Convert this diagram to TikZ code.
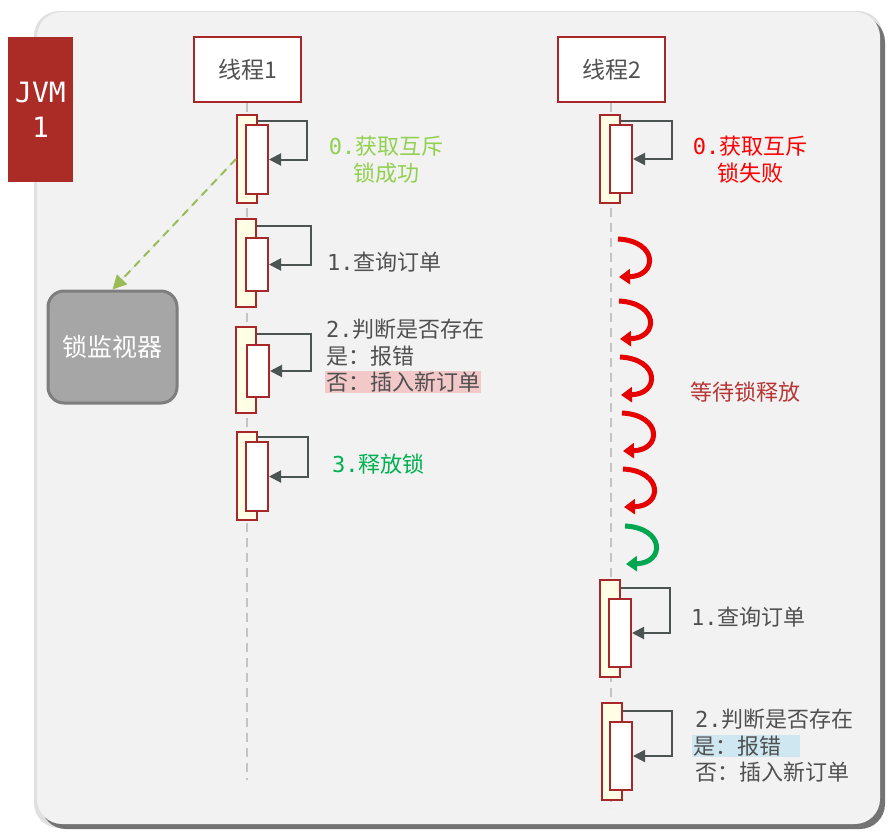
\documentclass[tikz,border=0pt]{standalone}
\usepackage{fontspec}
\setmainfont{Noto Sans CJK SC}
\setmonofont{DejaVu Sans Mono}
\usetikzlibrary{arrows.meta,positioning,calc}
\definecolor{jvmred}{HTML}{AB2B27}
\definecolor{edgered}{HTML}{A8282A}
\definecolor{actfill}{HTML}{FFFFE6}
\definecolor{inkgray}{HTML}{505050}
\definecolor{arrowgray}{HTML}{4B5353}
\definecolor{panelgray}{HTML}{F2F2F2}
\definecolor{lifegray}{HTML}{C4C4C4}
\definecolor{okgreen}{HTML}{92D050}
\definecolor{relgreen}{HTML}{00B050}
\definecolor{failred}{HTML}{FF0000}
\definecolor{waitred}{HTML}{B83434}
\definecolor{curlred}{HTML}{E60000}
\definecolor{curlgreen}{HTML}{00A650}
\definecolor{watchgreen}{HTML}{9BBB59}
\definecolor{monfill}{HTML}{A6A6A6}
\definecolor{monedge}{HTML}{7E7E7E}
\definecolor{hlpink}{HTML}{F3C8C8}
\definecolor{hlblue}{HTML}{CFE7F0}

\begin{document}
\begin{tikzpicture}[x=1pt, y=-1pt,
  thread/.style = {draw=edgered, line width=2pt, fill=white, minimum width=107pt, minimum height=65pt,
                   text=inkgray, font=\fontsize{23}{27}\selectfont},
  outer/.style  = {draw=edgered, line width=2pt, fill=actfill, minimum width=20pt, inner sep=0pt},
  inner/.style  = {draw=edgered, line width=2pt, fill=white, minimum width=22pt, inner sep=0pt},
  self/.style   = {-{Triangle[length=12pt,width=12pt]}, draw=arrowgray, line width=2pt},
  life/.style   = {draw=lifegray, line width=2pt, dash pattern=on 9pt off 6pt},
  watch/.style  = {-{Triangle[length=14pt,width=14pt]}, draw=watchgreen, fill=watchgreen, line width=2pt,
                   dash pattern=on 8pt off 6pt},
  curl/.style   = {-{Triangle[length=11pt,width=15pt]}, draw=curlred, line width=5pt},
  lbl/.style    = {font=\fontsize{22}{27}\selectfont, text=inkgray, anchor=west, inner sep=1pt},
  jvm/.style    = {fill=jvmred, minimum width=65pt, minimum height=145pt, text=white, align=center,
                   font=\ttfamily\fontsize{28}{35}\selectfont},
  monitor/.style= {draw=monedge, line width=3pt, fill=monfill, rounded corners=16pt, minimum width=129pt,
                   minimum height=112pt, text=white, font=\fontsize{25}{30}\selectfont},
]
\useasboundingbox (0,0) rectangle (891,836);

% --- the panel with its shadow --------------------------------------------------------------------
\fill[black!12, rounded corners=25pt] (34,11) rectangle (883,828);
\fill[black!55, rounded corners=25pt] (41,17) rectangle (885,829);
\fill[panelgray, rounded corners=25pt] (37,12) rectangle (880,824);

\node[jvm] (jvm) at (40.5,109.5) {JVM\\1};

% --- the two threads and their lifelines ----------------------------------------------------------
\node[thread] (th1) at (247.5,69.5) {线程1};
\node[thread] (th2) at (611.5,69.5) {线程2};
\coordinate (end1) at (247,780);
\coordinate (end2) at (611,808);
\draw[life] (th1.south -| end1) -- (end1);
\draw[life] (th2.south -| end2) -- (end2);

% --- thread 1: gets the lock, queries, checks, releases -------------------------------------------
\node[outer, minimum height=88pt] (p1a0) at (247,159) {};
\node[inner, minimum height=69pt] (p1b0) at (257,159.5) {};
\draw[self] ([yshift=-7pt]p1a0.north east) -- ++(49,0) |- (p1b0.east);

\node[outer, minimum height=88pt] (p1a1) at (246,263) {};
\node[inner, minimum height=53pt] (p1b1) at (257,264.5) {};
\draw[self] ([yshift=-8pt]p1a1.north east) -- ++(54,0) |- (p1b1.east);

\node[outer, minimum height=86pt] (p1a2) at (246,370) {};
\node[inner, minimum height=52pt] (p1b2) at (258,371) {};
\draw[self] ([yshift=-8pt]p1a2.north east) -- ++(54,0) |- (p1b2.east);

\node[outer, minimum height=88pt] (p1a3) at (247,476) {};
\node[inner, minimum height=69pt] (p1b3) at (257,476.5) {};
\draw[self] ([yshift=-6pt]p1a3.north east) -- ++(50,0) |- (p1b3.east);

\node[lbl, anchor=center, align=center, text=okgreen] (ok0) at (386,160) {\texttt{0.}获取互斥\\锁成功};
\node[lbl] (q1) at (326,262) {\texttt{1.}查询订单};
\node[lbl] (c1) at (325,329) {\texttt{2.}判断是否存在};
\node[lbl] (y1) at (325,356) {是：报错};
\node[lbl, fill=hlpink] (n1) at (325,382) {否：插入新订单};
\node[lbl, text=relgreen] (r1) at (331,464) {\texttt{3.}释放锁};

% --- the lock monitor ---------------------------------------------------------------------------
\node[monitor] (mon) at (112.5,347) {锁监视器};
\draw[watch] (p1a0.west) -- (mon.north);

% --- thread 2: fails, spins, then goes on -------------------------------------------------------
\node[outer, minimum height=88pt] (p2a0) at (610,159) {};
\node[inner, minimum height=68pt] (p2b0) at (621,159) {};
\draw[self] ([yshift=-7pt]p2a0.north east) -- ++(51,0) |- (p2b0.east);
\node[lbl, anchor=center, align=center, text=failred] (fail0) at (750,160) {\texttt{0.}获取互斥\\锁失败};

\draw[curl] (618,239) .. controls (658,241) and (658,276) .. (619,277);
\draw[curl] (619,301) .. controls (659,303) and (659,338) .. (620,339);
\draw[curl] (620,357) .. controls (660,359) and (660,394) .. (621,395);
\draw[curl] (622,413) .. controls (662,415) and (662,450) .. (623,451);
\draw[curl] (623,469) .. controls (663,471) and (663,506) .. (624,507);
\draw[curl, draw=curlgreen] (625,526) .. controls (665,528) and (665,563) .. (626,564);
\node[lbl, anchor=center, text=waitred] (wait) at (745,392) {等待锁释放};

\node[outer, minimum height=97pt] (p2a1) at (610,628.5) {};
\node[inner, minimum height=68pt] (p2b1) at (620,633) {};
\draw[self] ([yshift=-9pt]p2a1.north east) -- ++(49,0) |- (p2b1.east);
\node[lbl] (q2) at (690,617) {\texttt{1.}查询订单};

\node[outer, minimum height=97pt] (p2a2) at (611.5,751.5) {};
\node[inner, minimum height=68pt] (p2b2) at (621,756) {};
\draw[self] ([yshift=-9pt]p2a2.north east) -- ++(49,0) |- (p2b2.east);
\node[lbl] (c2) at (694,719) {\texttt{2.}判断是否存在};
\node[lbl, fill=hlblue] (y2) at (692,746) {是：报错\hspace*{18pt}};
\node[lbl] (n2) at (694,772) {否：插入新订单};

\end{tikzpicture}
\end{document}
